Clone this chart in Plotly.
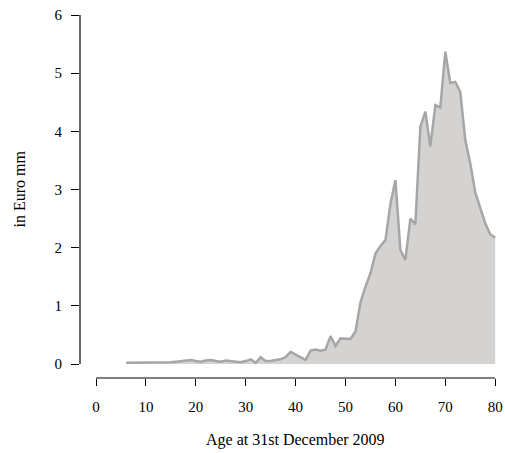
import plotly.graph_objects as go

ages = list(range(6, 81))
values = [
    0.02, 0.02, 0.025, 0.02, 0.02, 0.02, 0.02, 0.025, 0.025, 0.03, 0.04,  # 6-16
    0.05, 0.05, 0.07, 0.05, 0.04, 0.06, 0.07, 0.05, 0.04, 0.06,          # 17-26
    0.05, 0.05, 0.03, 0.05, 0.08, 0.02, 0.115, 0.05, 0.05, 0.07,         # 27-36
    0.08, 0.12, 0.21, 0.16, 0.12, 0.07, 0.23, 0.25, 0.23, 0.25,          # 37-46
    0.48, 0.31, 0.44, 0.44, 0.43, 0.56, 1.06, 1.33, 1.56, 1.9,           # 47-56
    2.03, 2.13, 2.75, 3.16, 1.96, 1.79, 2.5, 2.4, 4.08, 4.34,            # 57-66
    3.74, 4.45, 4.41, 5.37, 4.83, 4.85, 4.68, 3.85, 3.45, 2.95,          # 67-76
    2.68, 2.42, 2.23, 2.17                                               # 77-80
]
x_ticks = [0, 10, 20, 30, 40, 50, 60, 70, 80]
y_ticks = [0, 1, 2, 3, 4, 5, 6]
x_title = "Age at 31st December 2009"
y_title = "in Euro mm"

FONT = "Liberation Serif"
W, H = 505, 453

fig = go.Figure()
fig.add_trace(go.Scatter(
    x=ages, y=values, mode="lines", fill="tozeroy",
    fillcolor="#d4d3d2",
    line=dict(color="#a6a6a6", width=2.5),
    hoverinfo="skip", showlegend=False,
))

# axis lines spanning only the tick range (R-style detached axes)
fig.add_shape(type="line", xref="x", yref="paper",
              x0=min(x_ticks), x1=max(x_ticks), y0=0, y1=0,
              line=dict(color="black", width=1.2))
fig.add_shape(type="line", xref="paper", yref="y",
              x0=0, x1=0, y0=min(y_ticks), y1=max(y_ticks),
              line=dict(color="black", width=1.2))

fig.add_annotation(text=x_title, xref="x", yref="paper",
                   x=(min(x_ticks) + max(x_ticks)) / 2, y=0,
                   yanchor="middle", yshift=-62, showarrow=False,
                   font=dict(family=FONT, size=16, color="black"))
fig.add_annotation(text=y_title, xref="paper", yref="y",
                   x=0, y=(min(y_ticks) + max(y_ticks)) / 2,
                   xanchor="center", xshift=-61, textangle=-90, showarrow=False,
                   font=dict(family=FONT, size=16, color="black"))

fig.update_layout(
    width=W, height=H,
    margin=dict(l=80, r=5, t=10, b=75, autoexpand=False),
    paper_bgcolor="white", plot_bgcolor="white",
    font=dict(family=FONT, size=15, color="black"),
    xaxis=dict(range=[-3.206, 80.96], tickvals=x_ticks, ticks="outside",
               ticklen=7, tickwidth=1.2, tickcolor="black", showline=False,
               showgrid=False, zeroline=False, ticklabelstandoff=8,
               fixedrange=True),
    yaxis=dict(range=[-0.2407, 6.086], tickvals=y_ticks, ticks="outside",
               ticklen=8, tickwidth=1.2, tickcolor="black", showline=False,
               showgrid=False, zeroline=False, ticklabelstandoff=6,
               fixedrange=True),
)

fig.write_html("out.html")
